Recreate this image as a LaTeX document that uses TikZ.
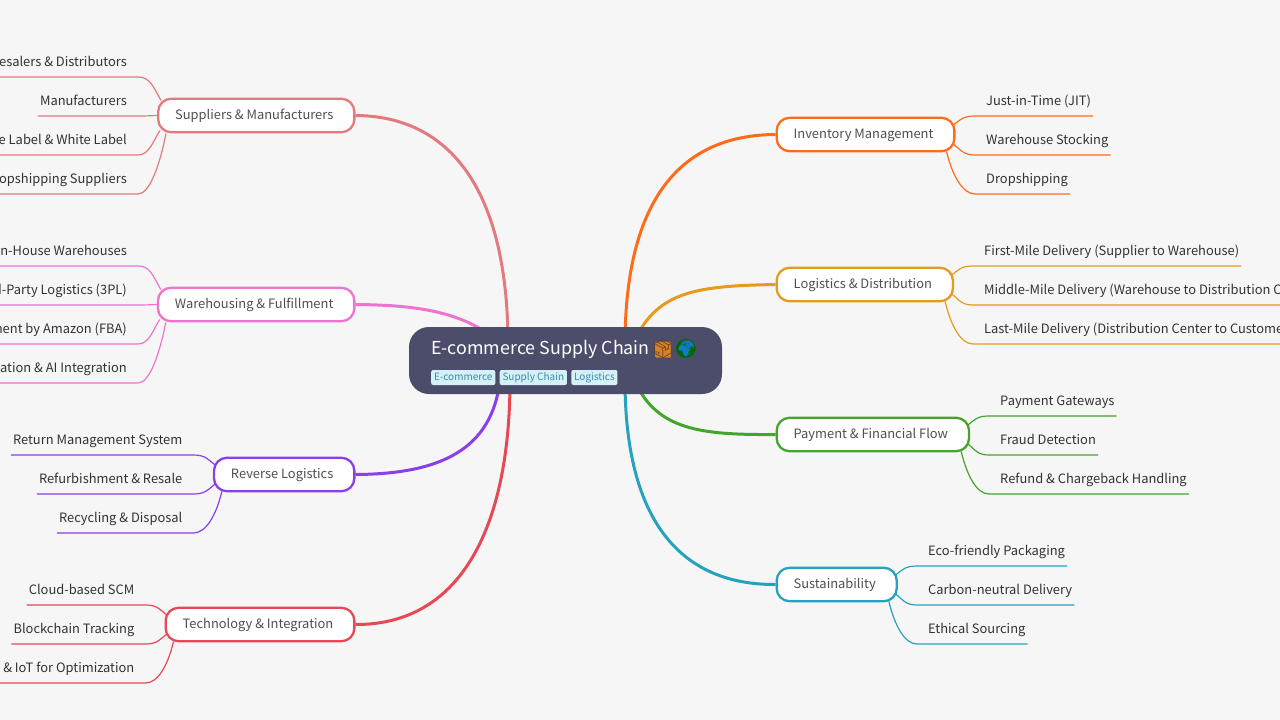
\documentclass[tikz,border=0pt]{standalone}
\usepackage{fontspec}
\setmainfont{Noto Sans CJK SC}
\newfontfamily\emojifont{Noto Emoji}
\usetikzlibrary{positioning,backgrounds}
\definecolor{pagebg}{HTML}{F6F6F6}
\definecolor{rootbg}{HTML}{4C4C6B}
\definecolor{tagbg}{HTML}{D5F1F8}
\definecolor{tagtxt}{HTML}{3F8AA3}
\definecolor{leaftxt}{HTML}{333333}
\definecolor{brtxt}{HTML}{505050}
\definecolor{csup}{HTML}{E27A7E}
\definecolor{cware}{HTML}{EE74CF}
\definecolor{crev}{HTML}{8A3FE8}
\definecolor{ctech}{HTML}{E84855}
\definecolor{cinv}{HTML}{FF6B1A}
\definecolor{clog}{HTML}{E69A1E}
\definecolor{cpay}{HTML}{44A52B}
\definecolor{csus}{HTML}{27A2BE}
\tikzset{
  branch/.style={draw=#1,fill=white,line width=2.3pt,rounded corners=13pt,text=brtxt,
    minimum height=33.5pt,inner xsep=17pt,inner ysep=0pt,text height=11.5pt,text depth=3pt,
    font=\fontsize{12.9}{16}\selectfont,execute at end node={\hspace{4pt}}},
  leaf/.style={inner xsep=2pt,inner ysep=7pt,text height=10pt,text depth=3pt,text=leaftxt,
    font=\fontsize{12.9}{16}\selectfont},
  tagbox/.style={fill=tagbg,text=tagtxt,rounded corners=2pt,inner xsep=2.8pt,inner ysep=0pt,
    minimum height=15pt,text height=7.5pt,text depth=2.5pt,font=\fontsize{10}{12}\selectfont},
  trunk/.style={draw=#1,line width=3pt},
  twig/.style={draw=#1,line width=1.2pt}
}
\begin{document}
\begin{tikzpicture}[x=1pt,y=-1pt]
\path[use as bounding box] (0,0) rectangle (1280,720);

% centre
\node[fill=rootbg,rounded corners=20pt,minimum width=313pt,minimum height=67pt,inner sep=0pt] (root) at (565.5,360.5) {};
\node[anchor=west,inner sep=0pt,text=white,font=\fontsize{17.85}{22}\selectfont] (title) at (431,349) {E-commerce Supply Chain};
\node[circle,fill=cyan!60!blue,inner sep=0pt,minimum size=18pt] (globeback) at (686,349.5) {};
\node[fill=brown!60!orange,rounded corners=1pt,inner sep=0pt,minimum size=16pt] (boxback) at (663,349.5) {};
\node[inner sep=0pt,text=brown!50!black,font=\emojifont\fontsize{19}{20}\selectfont] (box) at (663,349) {📦};
\node[inner sep=0pt,text=green!40!black,font=\emojifont\fontsize{19}{20}\selectfont] (globe) at (686,349) {🌍};
\node[tagbox,anchor=west] (tagone) at (431,377.5) {E-commerce};
\node[tagbox,right=4pt of tagone] (tagtwo) {Supply Chain};
\node[tagbox,right=4pt of tagtwo] (tagthree) {Logistics};

% branches
\node[branch=csup,anchor=east] (sup) at (355.5,115.5) {Suppliers \& Manufacturers};
\node[branch=cware,anchor=east] (ware) at (355.5,304.5) {Warehousing \& Fulfillment};
\node[branch=crev,anchor=east] (rev) at (355.5,474.5) {Reverse Logistics};
\node[branch=ctech,anchor=east] (tech) at (355.5,624.5) {Technology \& Integration};
\node[branch=cinv,anchor=west] (inv) at (775.5,134.5) {Inventory Management};
\node[branch=clog,anchor=west] (log) at (775.5,284.5) {Logistics \& Distribution};
\node[branch=cpay,anchor=west] (pay) at (775.5,434.5) {Payment \& Financial Flow};
\node[branch=csus,anchor=west] (sus) at (775.5,584.5) {Sustainability};

% ends of the trunks, under the centre
\coordinate (rootsup) at (508,345);
\coordinate (rootware) at (490,335);
\coordinate (rootrev) at (500,380);
\coordinate (roottech) at (510,380);
\coordinate (rootinv) at (625,345);
\coordinate (rootlog) at (635,340);
\coordinate (rootpay) at (635,382);
\coordinate (rootsus) at (625,380);

% leaves
\foreach \i/\ypos/\xtext in {1/77/Wholesalers \& Distributors,2/116/Manufacturers,3/155/Private Label \& White Label,4/194/Dropshipping Suppliers}
{
    \node[leaf,anchor=south east] (sup\i) at (129,\ypos) {\xtext};
}
\foreach \i/\ypos/\xtext in {1/266/In-House Warehouses,2/305/Third-Party Logistics (3PL),3/344/Fulfillment by Amazon (FBA),4/383/Automation \& AI Integration}
{
    \node[leaf,anchor=south east] (ware\i) at (129,\ypos) {\xtext};
}
\foreach \i/\ypos/\xtext in {1/455/Return Management System,2/494/Refurbishment \& Resale,3/533/Recycling \& Disposal}
{
    \node[leaf,anchor=south east] (rev\i) at (184.5,\ypos) {\xtext};
}
\foreach \i/\ypos/\xtext in {1/605/Cloud-based SCM,2/644/Blockchain Tracking,3/683/AI \& IoT for Optimization}
{
    \node[leaf,anchor=south east] (tech\i) at (136.5,\ypos) {\xtext};
}
\foreach \i/\ypos/\xtext in {1/116/Just-in-Time (JIT),2/155/Warehouse Stocking,3/194/Dropshipping}
{
    \node[leaf,anchor=south west] (inv\i) at (984,\ypos) {\xtext};
}
\foreach \i/\ypos/\xtext in {1/266/First-Mile Delivery (Supplier to Warehouse),2/305/Middle-Mile Delivery (Warehouse to Distribution Center),3/344/Last-Mile Delivery (Distribution Center to Customer)}
{
    \node[leaf,anchor=south west] (log\i) at (982,\ypos) {\xtext};
}
\foreach \i/\ypos/\xtext in {1/416/Payment Gateways,2/455/Fraud Detection,3/494/Refund \& Chargeback Handling}
{
    \node[leaf,anchor=south west] (pay\i) at (998,\ypos) {\xtext};
}
\foreach \i/\ypos/\xtext in {1/566/Eco-friendly Packaging,2/605/Carbon-neutral Delivery,3/644/Ethical Sourcing}
{
    \node[leaf,anchor=south west] (sus\i) at (926,\ypos) {\xtext};
}

\begin{scope}[on background layer]
\fill[pagebg] (0,0) rectangle (1280,720);

% trunks
\draw[trunk=csup] (sup.east) .. controls (450,116) and (508,190) .. (rootsup);
\draw[trunk=cware] (ware.east) .. controls (410,305) and (455,310) .. (rootware);
\draw[trunk=crev] (rev.east) .. controls (440,474) and (492,450) .. (rootrev);
\draw[trunk=ctech] (tech.east) .. controls (465,625) and (510,520) .. (roottech);
\draw[trunk=cinv] (inv.west) .. controls (680,135) and (625,200) .. (rootinv);
\draw[trunk=clog] (log.west) .. controls (700,286) and (658,290) .. (rootlog);
\draw[trunk=cpay] (pay.west) .. controls (700,435) and (658,430) .. (rootpay);
\draw[trunk=csus] (sus.west) .. controls (680,585) and (625,520) .. (rootsus);

% twigs, left side
\foreach \i/\ax/\ay/\cx/\cy in {1/4/-15/-8/-14,2/0/0/-5/0,3/3/15/-6/8,4/9/18/-6/30}
{
    \draw[twig=csup] ([shift={(\ax,\ay)}]sup.west) .. controls +(\cx,\cy) and +(12,0) .. ([xshift=9pt]sup\i.south east) -- (sup\i.south west);
    \draw[twig=cware] ([shift={(\ax,\ay)}]ware.west) .. controls +(\cx,\cy) and +(12,0) .. ([xshift=9pt]ware\i.south east) -- (ware\i.south west);
}
\foreach \i/\ax/\ay/\cx/\cy in {1/3/-9/-8/-6,2/3/9/-8/6,3/9/17/-6/25}
{
    \draw[twig=crev] ([shift={(\ax,\ay)}]rev.west) .. controls +(\cx,\cy) and +(12,0) .. ([xshift=9pt]rev\i.south east) -- (rev\i.south west);
    \draw[twig=ctech] ([shift={(\ax,\ay)}]tech.west) .. controls +(\cx,\cy) and +(12,0) .. ([xshift=9pt]tech\i.south east) -- (tech\i.south west);
}

% twigs, right side
\foreach \i/\ax/\ay/\cx/\cy in {1/-3/-9/8/-6,2/-3/9/8/6,3/-9/17/6/25}
{
    \draw[twig=cinv] ([shift={(\ax,\ay)}]inv.east) .. controls +(\cx,\cy) and +(-12,0) .. ([xshift=-9pt]inv\i.south west) -- (inv\i.south east);
    \draw[twig=clog] ([shift={(\ax,\ay)}]log.east) .. controls +(\cx,\cy) and +(-12,0) .. ([xshift=-9pt]log\i.south west) -- (log\i.south east);
    \draw[twig=cpay] ([shift={(\ax,\ay)}]pay.east) .. controls +(\cx,\cy) and +(-12,0) .. ([xshift=-9pt]pay\i.south west) -- (pay\i.south east);
    \draw[twig=csus] ([shift={(\ax,\ay)}]sus.east) .. controls +(\cx,\cy) and +(-12,0) .. ([xshift=-9pt]sus\i.south west) -- (sus\i.south east);
}
\end{scope}
\end{tikzpicture}
\end{document}
